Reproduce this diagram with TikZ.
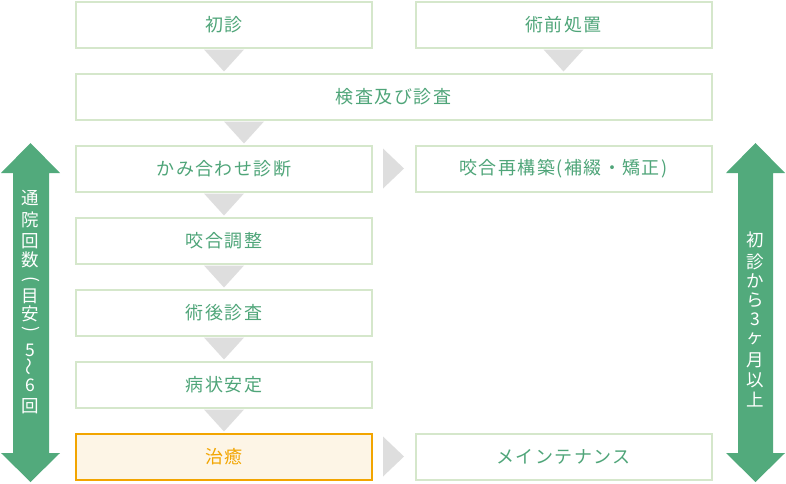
\documentclass[tikz,border=0pt]{standalone}
\usepackage{fontspec}
\setmainfont{Noto Sans CJK JP}[LetterSpace=8]
\usetikzlibrary{calc}
\definecolor{boxline}{HTML}{D5E7CB}
\definecolor{txtgreen}{HTML}{4FA579}
\definecolor{arrowgreen}{HTML}{52AA7C}
\definecolor{trigray}{HTML}{DEDEDE}
\definecolor{orangeline}{HTML}{F2A500}
\definecolor{orangefill}{HTML}{FDF5E6}
\tikzset{
  flowbox/.style={draw=boxline, line width=2pt, fill=white, text=txtgreen,
    minimum width=296pt, minimum height=46pt, inner sep=0pt,
    font=\fontsize{18}{18}\selectfont},
  widebox/.style={flowbox, minimum width=636pt},
  hlbox/.style={flowbox, draw=orangeline, fill=orangefill, text=orangeline},
  tri/.style={fill=trigray, draw=none},
  bigarrow/.style={fill=arrowgreen, draw=none},
  vchar/.style={text=white, inner sep=0pt, font=\fontsize{17.5}{17.5}\selectfont}
}
\begin{document}
\begin{tikzpicture}[x=1pt, y=-1pt]
\useasboundingbox (0,0) rectangle (786,483);
% boxes
\node[flowbox] (shoshin) at (224,24.5) {初診};
\node[flowbox] (jutsuzen) at (563.5,24.5) {術前処置};
\node[widebox] (kensa) at (393.5,96.5) {検査及び診査};
\node[flowbox] (kamiawase) at (224,168.5) {かみ合わせ診断};
\node[flowbox] (saikouchiku) at (563.5,168.5) {咬合再構築(補綴・矯正)};
\node[flowbox] (chousei) at (224,240.5) {咬合調整};
\node[flowbox] (jutsugo) at (224,312.5) {術後診査};
\node[flowbox] (antei) at (224,384.5) {病状安定};
\node[hlbox] (chiyu) at (224,456.5) {治癒};
\node[flowbox] (maint) at (563.5,456.5) {メインテナンス};
% down triangles
\foreach \n in {shoshin,jutsuzen,kamiawase,chousei,jutsugo,antei}{
  \fill[tri] ($(\n.south)+(-20,1)$) -- ($(\n.south)+(20,1)$) -- ($(\n.south)+(0,23)$) -- cycle;
}
\fill[tri] ($(kensa.south)+(-169.5,1)$) -- ($(kensa.south)+(-129.5,1)$) -- ($(kensa.south)+(-149.5,23)$) -- cycle;
% right triangles
\foreach \n in {kamiawase,chiyu}{
  \fill[tri] ($(\n.east)+(10,-20)$) -- ($(\n.east)+(31,0)$) -- ($(\n.east)+(10,20)$) -- cycle;
}
% left double arrow
\fill[bigarrow] (30.5,143) -- (60,173) -- (49,173) -- (49,453) -- (60,453) -- (30.5,482)
  -- (1,453) -- (13,453) -- (13,173) -- (1,173) -- cycle;
% right double arrow
\fill[bigarrow] (755.5,143) -- (785,173) -- (773,173) -- (773,453) -- (785,453) -- (755.5,482)
  -- (726,453) -- (738,453) -- (738,173) -- (726,173) -- cycle;
% vertical texts
\foreach \c/\y [count=\i] in {通/198,院/220,回/241,数/260,{\rotatebox{-90}{(}}/279,目/296,安/314,{\rotatebox{-90}{)}}/329,5/350,{\rotatebox{90}{〜}}/367,6/385,回/406}{
  \node[vchar] (lt\i) at (30.5,\y) {\c};
}
\foreach \c/\y [count=\i] in {初/240,診/262,か/281,ら/300,3/319,ヶ/339,月/360,以/380,上/400}{
  \node[vchar] (rt\i) at (755.5,\y) {\c};
}
\end{tikzpicture}
\end{document}
